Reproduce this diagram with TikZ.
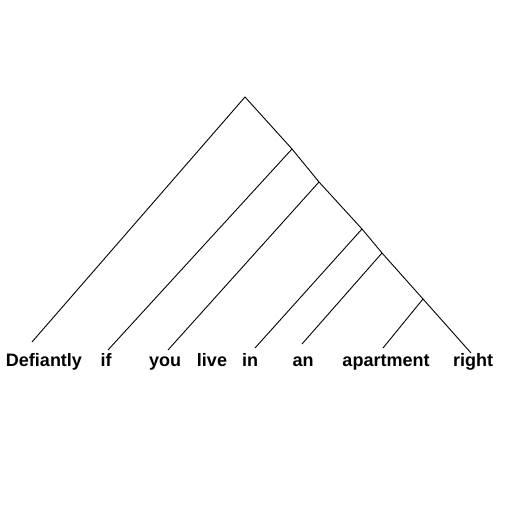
\documentclass[tikz,border=0pt]{standalone}
\usepackage{fontspec}
\setmainfont{Liberation Sans}
\begin{document}
\begin{tikzpicture}[x=1pt,y=1pt,
  word/.style={font=\fontsize{18}{20}\selectfont\bfseries, anchor=base, inner sep=0pt},
  edge/.style={line width=0.9pt, black}]
\useasboundingbox (0,0) rectangle (506,505);
% internal nodes
\coordinate (r) at (245,408);
\coordinate (j1) at (292,356);
\coordinate (j2) at (319,323);
\coordinate (j3) at (362,276);
\coordinate (j4) at (382,252);
\coordinate (j5) at (423,206);
% leaf line ends
\coordinate (lDef) at (32,163);
\coordinate (lif) at (108,155);
\coordinate (lyou) at (168,155);
\coordinate (lin) at (255,157);
\coordinate (lan) at (302,161);
\coordinate (lapt) at (383,157);
\coordinate (lright) at (471,152);
% words
\node[word] (wDef) at (44,138) {Defiantly};
\node[word] (wif) at (106,138) {if};
\node[word] (wyou) at (165,138) {you};
\node[word] (wlive) at (212,138) {live};
\node[word] (win) at (250,138) {in};
\node[word] (wan) at (303,138) {an};
\node[word] (wapt) at (386,138) {apartment};
\node[word] (wright) at (473,138) {right};
% edges
\draw[edge] (lDef) -- (r) -- (j1) -- (j2) -- (j3) -- (j4) -- (j5) -- (lright);
\draw[edge] (j1) -- (lif);
\draw[edge] (j2) -- (lyou);
\draw[edge] (j3) -- (lin);
\draw[edge] (j4) -- (lan);
\draw[edge] (j5) -- (lapt);
\end{tikzpicture}
\end{document}
